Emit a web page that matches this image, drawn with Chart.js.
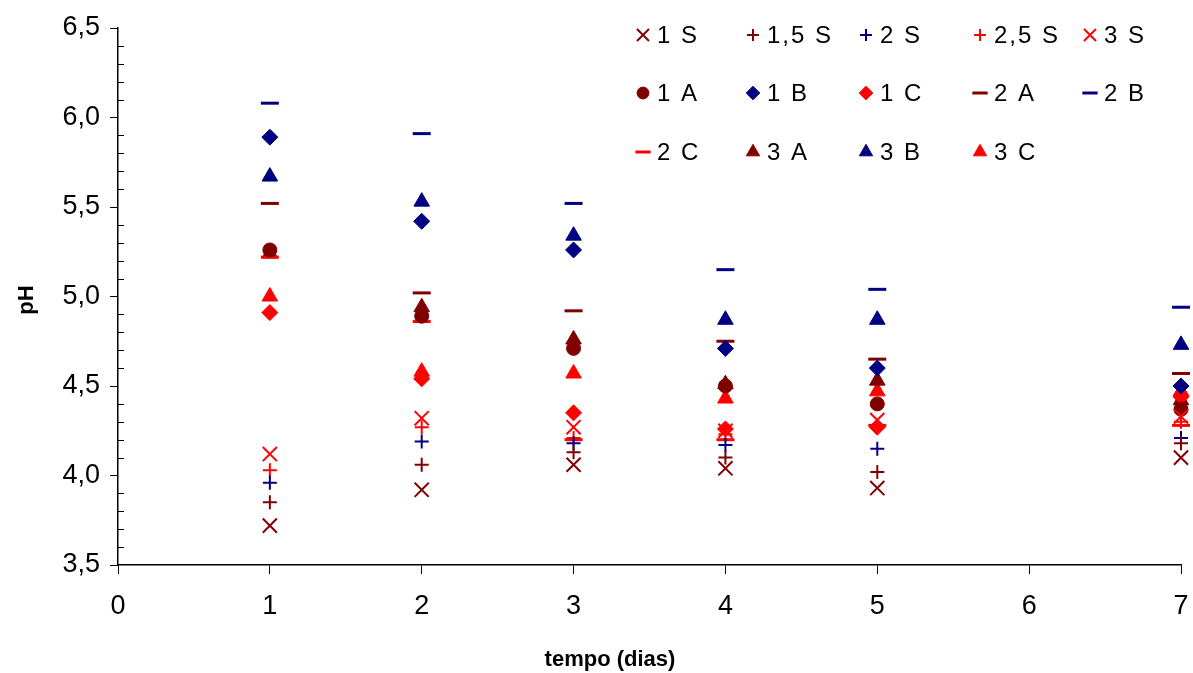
<!DOCTYPE html>
<html>
<head>
<meta charset="utf-8">
<script src="https://cdn.jsdelivr.net/npm/chart.js@4/dist/chart.umd.min.js"></script>
<style>
  html, body { margin: 0; padding: 0; background: #fff; }
  #wrap { width: 1193px; height: 673px; position: relative; }
</style>
</head>
<body>
<div id="wrap"><canvas id="phChart"></canvas></div>
<script>
// tempo (dias)
var days = [1, 2, 3, 4, 5, 7]

// pH values
var s1  = [3.72, 3.92, 4.06, 4.04, 3.93, 4.10]
var s15 = [3.85, 4.06, 4.13, 4.10, 4.02, 4.18]
var s2  = [3.96, 4.19, 4.18, 4.17, 4.15, 4.21]
var s25 = [4.03, 4.27, 4.21, 4.23, 4.27, 4.30]
var s3  = [4.12, 4.32, 4.27, 4.25, 4.31, 4.33]
var a1  = [5.26, 4.89, 4.71, 4.50, 4.40, 4.37]
var b1  = [5.89, 5.42, 5.26, 4.71, 4.60, 4.50]
var c1  = [4.91, 4.54, 4.35, 4.26, 4.27, 4.44]
var a2  = [5.52, 5.02, 4.92, 4.75, 4.65, 4.57]
var b2  = [6.08, 5.91, 5.52, 5.15, 5.04, 4.94]
var c2  = [5.22, 4.86, 4.20, 4.20, 4.28, 4.28]
var a3  = [5.24, 4.94, 4.76, 4.51, 4.53, 4.42]
var b3  = [5.67, 5.53, 5.34, 4.87, 4.87, 4.73]
var c3  = [5.00, 4.58, 4.57, 4.43, 4.47, 4.47]

var seriesNames = ['1 S', '1,5 S', '2 S', '2,5 S', '3 S',
                   '1 A', '1 B', '1 C', '2 A', '2 B',
                   '2 C', '3 A', '3 B', '3 C']
var seriesData = [s1, s15, s2, s25, s3, a1, b1, c1, a2, b2, c2, a3, b3, c3]

var yTicks = [3.5, 4.0, 4.5, 5.0, 5.5, 6.0, 6.5]

var MAROON = '#800000', NAVY = '#000080', RED = '#ff0000'
var styles = [
  { shape: 'crossRot', color: MAROON, r: 10, bw: 2 },
  { shape: 'cross',    color: MAROON, r: 7,  bw: 2 },
  { shape: 'cross',    color: NAVY,   r: 7,  bw: 2 },
  { shape: 'cross',    color: RED,    r: 7,  bw: 2 },
  { shape: 'crossRot', color: RED,    r: 10, bw: 2 },
  { shape: 'circle',   color: MAROON, r: 7,  bw: 1 },
  { shape: 'rectRot',  color: NAVY,   r: 8,  bw: 1 },
  { shape: 'rectRot',  color: RED,    r: 8,  bw: 1 },
  { shape: 'line',     color: MAROON, r: 9,  bw: 3 },
  { shape: 'line',     color: NAVY,   r: 9,  bw: 3 },
  { shape: 'line',     color: RED,    r: 9,  bw: 3 },
  { shape: 'triangle', color: MAROON, r: 9,  bw: 1 },
  { shape: 'triangle', color: NAVY,   r: 9,  bw: 1 },
  { shape: 'triangle', color: RED,    r: 9,  bw: 1 }
]

var datasets = seriesNames.map(function(name, i){
  var st = styles[i]
  return {
    label: name,
    data: days.map(function(d, j){ return { x: d, y: seriesData[i][j] } }),
    pointStyle: st.shape,
    pointRadius: st.r,
    pointHoverRadius: st.r,
    pointBorderWidth: st.bw,
    borderColor: st.color,
    backgroundColor: st.color,
    showLine: false,
    clip: false
  }
})

var FONT = '"Liberation Sans", Arial, sans-serif'

// legend in a 5-column grid, top right, plus minor ticks and axis titles
var extras = {
  id: 'extras',
  afterDraw: function(chart){
    var ctx = chart.ctx
    var ys = chart.scales.y
    var left = chart.chartArea.left

    ctx.save()
    ctx.strokeStyle = '#000'
    ctx.lineWidth = 1
    for (var k = 0; k <= 30; k++) {
      if (k % 5 === 0) continue
      var py = Math.round(ys.getPixelForValue(3.5 + k * 0.1)) + 0.5
      ctx.beginPath(); ctx.moveTo(left, py); ctx.lineTo(left + 6, py); ctx.stroke()
    }

    // axis titles
    ctx.fillStyle = '#000'
    ctx.font = 'bold 22px ' + FONT
    ctx.textAlign = 'center'
    ctx.textBaseline = 'middle'
    ctx.fillText('tempo (dias)', 610, 660)
    ctx.translate(27, 300)
    ctx.rotate(-Math.PI / 2)
    ctx.fillText('pH', 0, 0)
    ctx.restore()

    // legend
    var colX = [643, 753, 866, 980, 1090]
    var rowY = [35, 93, 152]
    ctx.save()
    ctx.font = '24px ' + FONT
    ctx.textAlign = 'left'
    ctx.textBaseline = 'middle'
    chart.data.datasets.forEach(function(ds, i){
      var x = colX[i % 5], y = rowY[Math.floor(i / 5)]
      ctx.strokeStyle = ds.borderColor
      ctx.fillStyle = ds.backgroundColor
      ctx.lineWidth = ds.pointBorderWidth
      Chart.helpers.drawPoint(ctx, { pointStyle: ds.pointStyle, radius: ds.pointRadius * 0.85, rotation: 0, borderWidth: ds.pointBorderWidth }, x, y)
      ctx.fillStyle = '#000'
      ctx.fillText(ds.label.split('').join(String.fromCharCode(8202)), x + 14, y + 1)
    })
    ctx.restore()
  }
}

new Chart(document.getElementById('phChart'), {
  type: 'scatter',
  data: { datasets: datasets },
  plugins: [extras],
  options: {
    responsive: true,
    maintainAspectRatio: false,
    animation: false,
    layout: { padding: { top: 28, right: 11, left: 0, bottom: 0 } },
    plugins: { legend: { display: false }, tooltip: { enabled: false } },
    scales: {
      x: {
        type: 'linear',
        min: 0, max: 7,
        afterFit: function(s){ s.height = 108; s.paddingRight = 0; s.paddingLeft = 0 },
        ticks: { stepSize: 1, color: '#000', font: { family: FONT, size: 27 }, padding: 16 },
        grid: { drawOnChartArea: false, tickLength: 9, color: '#000' },
        border: { color: '#000', width: 1.5 }
      },
      y: {
        min: 3.5, max: 6.5,
        afterFit: function(s){ s.width = 118; s.paddingTop = 0; s.paddingBottom = 0 },
        afterBuildTicks: function(s){ s.ticks = yTicks.map(function(v){ return { value: v } }) },
        ticks: {
          color: '#000',
          font: { family: FONT, size: 27 },
          padding: 10,
          callback: function(v){ return Number(v).toFixed(1).replace('.', ',') }
        },
        grid: { drawOnChartArea: false, tickLength: 8, color: '#000' },
        border: { color: '#000', width: 1.5 }
      }
    }
  }
})
</script>
</body>
</html>
